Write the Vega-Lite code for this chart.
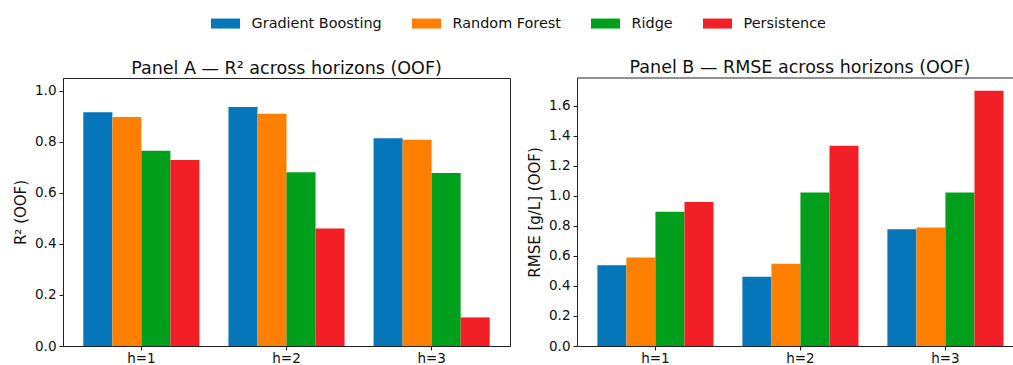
{
  "$schema": "https://vega.github.io/schema/vega-lite/v6.json",
  "padding": {"left": 13, "top": 9, "right": 0, "bottom": 0},
  "datasets": {
    "r2": [
      {"horizon": "h=1", "model": "Gradient Boosting", "value": 0.916},
      {"horizon": "h=1", "model": "Random Forest", "value": 0.897},
      {"horizon": "h=1", "model": "Ridge", "value": 0.765},
      {"horizon": "h=1", "model": "Persistence", "value": 0.729},
      {"horizon": "h=2", "model": "Gradient Boosting", "value": 0.936},
      {"horizon": "h=2", "model": "Random Forest", "value": 0.910},
      {"horizon": "h=2", "model": "Ridge", "value": 0.681},
      {"horizon": "h=2", "model": "Persistence", "value": 0.460},
      {"horizon": "h=3", "model": "Gradient Boosting", "value": 0.814},
      {"horizon": "h=3", "model": "Random Forest", "value": 0.808},
      {"horizon": "h=3", "model": "Ridge", "value": 0.678},
      {"horizon": "h=3", "model": "Persistence", "value": 0.112}
    ],
    "rmse": [
      {"horizon": "h=1", "model": "Gradient Boosting", "value": 0.537},
      {"horizon": "h=1", "model": "Random Forest", "value": 0.590},
      {"horizon": "h=1", "model": "Ridge", "value": 0.894},
      {"horizon": "h=1", "model": "Persistence", "value": 0.959},
      {"horizon": "h=2", "model": "Gradient Boosting", "value": 0.461},
      {"horizon": "h=2", "model": "Random Forest", "value": 0.548},
      {"horizon": "h=2", "model": "Ridge", "value": 1.023},
      {"horizon": "h=2", "model": "Persistence", "value": 1.334},
      {"horizon": "h=3", "model": "Gradient Boosting", "value": 0.777},
      {"horizon": "h=3", "model": "Random Forest", "value": 0.790},
      {"horizon": "h=3", "model": "Ridge", "value": 1.023},
      {"horizon": "h=3", "model": "Persistence", "value": 1.700}
    ]
  },
  "config": {
    "font": "DejaVu Sans",
    "view": {"stroke": "#222222", "strokeWidth": 1},
    "axis": {
      "grid": false,
      "labelFont": "DejaVu Sans",
      "labelFontSize": 13.5,
      "labelColor": "#111111",
      "labelPadding": 3,
      "labelOverlap": false,
      "titleFont": "DejaVu Sans",
      "titleFontSize": 15,
      "titleFontWeight": "normal",
      "titleColor": "#111111",
      "domainColor": "#222222",
      "tickColor": "#222222",
      "tickSize": 4
    },
    "title": {
      "font": "DejaVu Sans",
      "fontSize": 17.5,
      "fontWeight": "normal",
      "color": "#111111",
      "anchor": "middle",
      "frame": "group",
      "baseline": "alphabetic",
      "offset": 1
    }
  },
  "spacing": 16,
  "hconcat": [
    {
      "width": 447,
      "height": 268,
      "title": "Panel A — R² across horizons (OOF)",
      "data": {"name": "r2"},
      "mark": {"type": "bar"},
      "encoding": {
        "x": {
          "field": "horizon",
          "type": "nominal",
          "scale": {"paddingInner": 0.2, "paddingOuter": 0.14},
          "axis": {"title": null, "labelAngle": 0, "labelPadding": 1}
        },
        "xOffset": {
          "field": "model",
          "type": "nominal",
          "sort": ["Gradient Boosting", "Random Forest", "Ridge", "Persistence"],
          "scale": {"paddingInner": 0, "paddingOuter": 0}
        },
        "y": {
          "field": "value",
          "type": "quantitative",
          "scale": {"domain": [0, 1.05], "nice": false},
          "axis": {"title": "R² (OOF)", "values": [0, 0.2, 0.4, 0.6, 0.8, 1.0], "format": ".1f", "titlePadding": 6}
        },
        "color": {
          "field": "model",
          "type": "nominal",
          "sort": ["Gradient Boosting", "Random Forest", "Ridge", "Persistence"],
          "scale": {
            "domain": ["Gradient Boosting", "Random Forest", "Ridge", "Persistence"],
            "range": ["#0576B9", "#FF8000", "#009F1C", "#F21F26"]
          },
          "legend": {
            "title": null,
            "orient": "none",
            "direction": "horizontal",
            "legendX": 148,
            "legendY": -69,
            "symbolType": "M-1,-0.345L1,-0.345L1,0.345L-1,0.345Z",
            "symbolSize": 841,
            "symbolStrokeWidth": 0,
            "symbolOpacity": 1,
            "labelFont": "DejaVu Sans",
            "labelFontSize": 14.4,
            "labelColor": "#111111",
            "labelOffset": 11.6,
            "labelLimit": 300,
            "columnPadding": 30
          }
        }
      }
    },
    {
      "width": 436,
      "height": 268,
      "view": {"stroke": null},
      "title": {"text": "Panel B — RMSE across horizons (OOF)", "dx": 5},
      "data": {"name": "rmse"},
      "layer": [
        {
          "mark": {"type": "bar"},
          "encoding": {
            "x": {
              "field": "horizon",
              "type": "nominal",
              "scale": {"paddingInner": 0.2, "paddingOuter": 0.1034, "align": 0.68},
              "axis": {"title": null, "labelAngle": 0, "labelPadding": 1}
            },
            "xOffset": {
              "field": "model",
              "type": "nominal",
              "sort": ["Gradient Boosting", "Random Forest", "Ridge", "Persistence"],
              "scale": {"paddingInner": 0, "paddingOuter": 0}
            },
            "y": {
              "field": "value",
              "type": "quantitative",
              "scale": {"domain": [0, 1.785], "nice": false},
              "axis": {"title": "RMSE [g/L] (OOF)", "values": [0, 0.2, 0.4, 0.6, 0.8, 1.0, 1.2, 1.4, 1.6], "format": ".1f", "titlePadding": 6}
            },
            "color": {
              "field": "model",
              "type": "nominal",
              "sort": ["Gradient Boosting", "Random Forest", "Ridge", "Persistence"],
              "scale": {
                "domain": ["Gradient Boosting", "Random Forest", "Ridge", "Persistence"],
                "range": ["#0576B9", "#FF8000", "#009F1C", "#F21F26"]
              },
              "legend": {
                "title": null,
                "orient": "none",
                "direction": "horizontal",
                "legendX": 148,
                "legendY": -69,
                "symbolType": "M-1,-0.345L1,-0.345L1,0.345L-1,0.345Z",
                "symbolSize": 841,
                "symbolStrokeWidth": 0,
                "symbolOpacity": 1,
                "labelFont": "DejaVu Sans",
                "labelFontSize": 14.4,
                "labelColor": "#111111",
                "labelOffset": 11.6,
                "labelLimit": 300,
                "columnPadding": 30
              }
            }
          }
        },
        {
          "data": {"values": [{"frame": "top"}]},
          "mark": {"type": "rule", "color": "#222222", "strokeWidth": 1},
          "encoding": {
            "y": {
              "datum": 1.785,
              "type": "quantitative",
              "scale": {"domain": [0, 1.785], "nice": false},
              "axis": {"title": "RMSE [g/L] (OOF)", "values": [0, 0.2, 0.4, 0.6, 0.8, 1.0, 1.2, 1.4, 1.6], "format": ".1f", "titlePadding": 6}
            }
          }
        }
      ]
    }
  ]
}
